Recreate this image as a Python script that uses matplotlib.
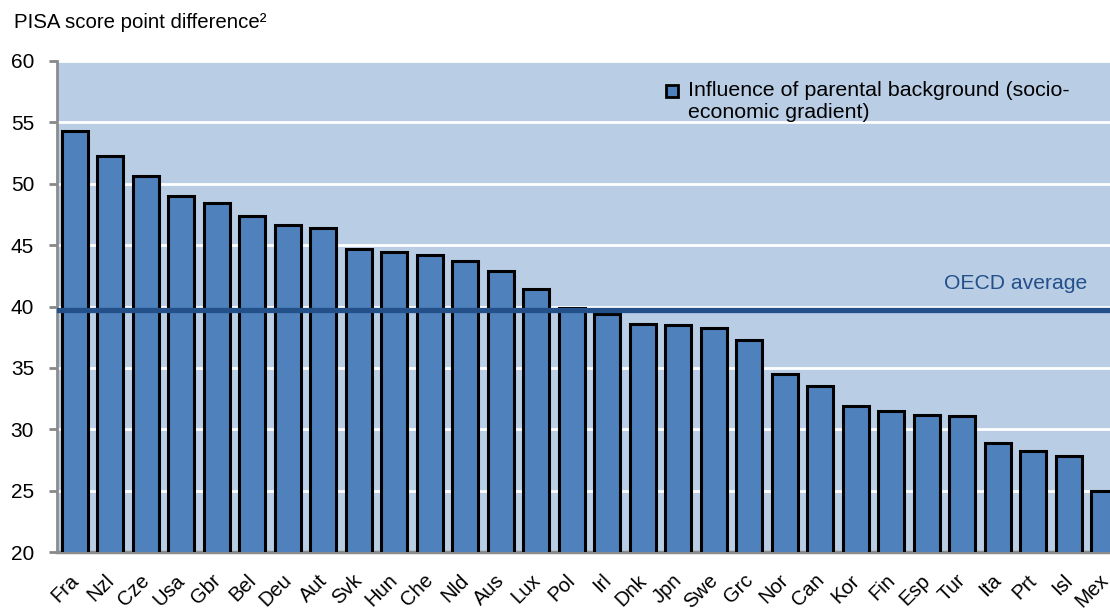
import matplotlib
matplotlib.use("Agg")
import matplotlib.pyplot as plt
from matplotlib.transforms import ScaledTranslation

plt.rcParams["font.family"] = ["Liberation Sans", "DejaVu Sans"]

countries = ["Fra", "Nzl", "Cze", "Usa", "Gbr", "Bel", "Deu", "Aut", "Svk", "Hun",
             "Che", "Nld", "Aus", "Lux", "Pol", "Irl", "Dnk", "Jpn", "Swe", "Grc",
             "Nor", "Can", "Kor", "Fin", "Esp", "Tur", "Ita", "Prt", "Isl", "Mex"]
gradient = [54.3, 52.3, 50.6, 49.0, 48.4, 47.4, 46.6, 46.4, 44.7, 44.4,
            44.2, 43.7, 42.9, 41.4, 39.9, 39.4, 38.55, 38.5, 38.25, 37.3,
            34.5, 33.5, 31.9, 31.45, 31.15, 31.05, 28.85, 28.2, 27.8, 25.0]
oecd_avg = 39.72

bg = "#B9CDE5"
bar_col = "#4F81BD"
line_col = "#24508A"

fig = plt.figure(figsize=(11.1, 6.11), dpi=100)
# axes runs a bit past the right edge, like the original crop
ax = fig.add_axes([57 / 1110, (611 - 552) / 611, 1065 / 1110, 491 / 611])
ax.set_facecolor(bg)

x = range(len(countries))
ax.bar(x, gradient, width=0.74, color=bar_col, edgecolor="black", linewidth=2.2, zorder=3)
ax.axhline(oecd_avg, color=line_col, linewidth=3.8, zorder=4)
ax.text(26.5, 41.85, "OECD average", color=line_col,
        fontsize=15.2, ha="center", va="center", zorder=5)

ax.set_ylim(20, 60)
ax.set_xlim(-0.5, len(countries) - 0.5)
ax.set_yticks(range(20, 61, 5))
ax.yaxis.grid(True, color="white", linewidth=2)
ax.set_axisbelow(True)

ax.set_xticks(list(x))
ax.set_xticklabels(countries, rotation=45, ha="right", va="top",
                   rotation_mode="anchor", fontsize=14.5)
ax.tick_params(axis="x", length=0, pad=13.5)
shift = ScaledTranslation(-6 / 100, 0, fig.dpi_scale_trans)
for lab in ax.get_xticklabels():
    lab.set_transform(lab.get_transform() + shift)
ax.tick_params(axis="y", labelsize=15, color="#888888", width=2, length=5.5,
               direction="out", pad=11)

for s in ["top", "right"]:
    ax.spines[s].set_visible(False)
ax.spines["left"].set_color("#8C8C8C")
ax.spines["left"].set_linewidth(2)
ax.spines["bottom"].set_color("#8C8C8C")
ax.spines["bottom"].set_linewidth(2.5)

fig.text(14 / 1110, 1 - 22 / 611, "PISA score point difference²", fontsize=14.7,
         va="center", ha="left")

# legend drawn by hand so the two lines sit close together
ax.plot([(672 - 57) / 1065], [(552 - 91) / 491], transform=ax.transAxes,
        marker="s", markersize=8, markerfacecolor=bar_col, markeredgecolor="black",
        markeredgewidth=2, linestyle="none", clip_on=False, zorder=6)
ax.text((688 - 57) / 1065, (552 - 81) / 491,
        "Influence of parental background (socio-\neconomic gradient)",
        transform=ax.transAxes, fontsize=15.4, ha="left", va="top",
        linespacing=1.22, zorder=6)

fig.savefig("out.png", dpi=100)
